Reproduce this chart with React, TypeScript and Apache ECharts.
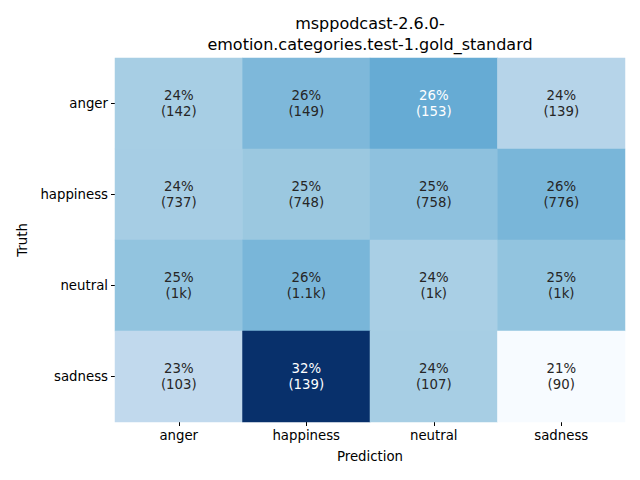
import React, { useEffect, useRef } from "react";
import * as echarts from "echarts";

const predictions = ["anger", "happiness", "neutral", "sadness"];
const truths = ["anger", "happiness", "neutral", "sadness"];
// row-normalised percentages (truth rows x prediction columns)
const percentRows = [
  [24.36, 25.56, 26.24, 23.84],
  [24.41, 24.78, 25.11, 25.7],
  [25.0, 25.7, 24.3, 25.0],
  [23.46, 31.66, 24.37, 20.5],
];
const percentLabels = [
  ["24%", "26%", "26%", "24%"],
  ["24%", "25%", "25%", "26%"],
  ["25%", "26%", "24%", "25%"],
  ["23%", "32%", "24%", "21%"],
];
const countLabels = [
  ["142", "149", "153", "139"],
  ["737", "748", "758", "776"],
  ["1k", "1.1k", "1k", "1k"],
  ["103", "139", "107", "90"],
];
const titleText = "msppodcast-2.6.0-\nemotion.categories.test-1.gold_standard";

const blues = ["#f7fbff", "#deebf7", "#c6dbef", "#9ecae1", "#6baed6", "#4292c6", "#2171b5", "#08519c", "#08306b"];

export default function App() {
  const ref = useRef<HTMLDivElement>(null);
  useEffect(() => {
    if (!ref.current) return;
    const chart = echarts.init(ref.current, undefined, { renderer: "svg" });
    const all = percentRows.flat();
    const vmin = Math.min(...all);
    const vmax = Math.max(...all);
    const data: any[] = [];
    percentRows.forEach((row, r) => {
      row.forEach((v, c) => {
        data.push({
          value: [c, r, v],
          label: {
            color: (v - vmin) / (vmax - vmin) > 0.5 ? "#ffffff" : "#262626",
            formatter: `${percentLabels[r][c]}\n(${countLabels[r][c]})`,
          },
        });
      });
    });
    const font = "DejaVu Sans";
    chart.setOption({
      animation: false,
      textStyle: { fontFamily: font },
      grid: { left: 115, right: 15, top: 58, bottom: 58 },
      graphic: [
        {
          type: "text",
          x: 370,
          y: 34,
          style: {
            text: titleText,
            fontFamily: font,
            fontSize: 16,
            lineHeight: 21,
            fill: "#000",
            align: "center",
            verticalAlign: "middle",
          },
        },
      ],
      xAxis: {
        type: "category",
        data: predictions,
        name: "Prediction",
        nameLocation: "middle",
        nameGap: 28,
        nameTextStyle: { color: "#000", fontSize: 13.3, fontFamily: font },
        axisLine: { show: false },
        axisTick: { show: true, alignWithLabel: true, length: 4, lineStyle: { color: "#000" } },
        axisLabel: { color: "#000", fontSize: 13.3, margin: 7, fontFamily: font },
        splitLine: { show: false },
      },
      yAxis: {
        type: "category",
        data: truths,
        inverse: true,
        name: "Truth",
        nameLocation: "middle",
        nameGap: 86,
        nameTextStyle: { color: "#000", fontSize: 13.3, fontFamily: font },
        axisLine: { show: false },
        axisTick: { show: true, alignWithLabel: true, length: 4, lineStyle: { color: "#000" } },
        axisLabel: { color: "#000", fontSize: 13.3, margin: 7, fontFamily: font },
        splitLine: { show: false },
      },
      visualMap: {
        show: false,
        type: "continuous",
        min: vmin,
        max: vmax,
        dimension: 2,
        inRange: { color: blues },
      },
      series: [
        {
          type: "heatmap",
          data,
          label: { show: true, fontSize: 13.3, lineHeight: 16.5, fontFamily: font },
          itemStyle: { borderWidth: 0 },
          emphasis: { disabled: true },
        },
      ],
    });
    return () => chart.dispose();
  }, []);
  return <div ref={ref} style={{ width: 640, height: 480, position: "absolute", left: 0, top: 0 }} />;
}
